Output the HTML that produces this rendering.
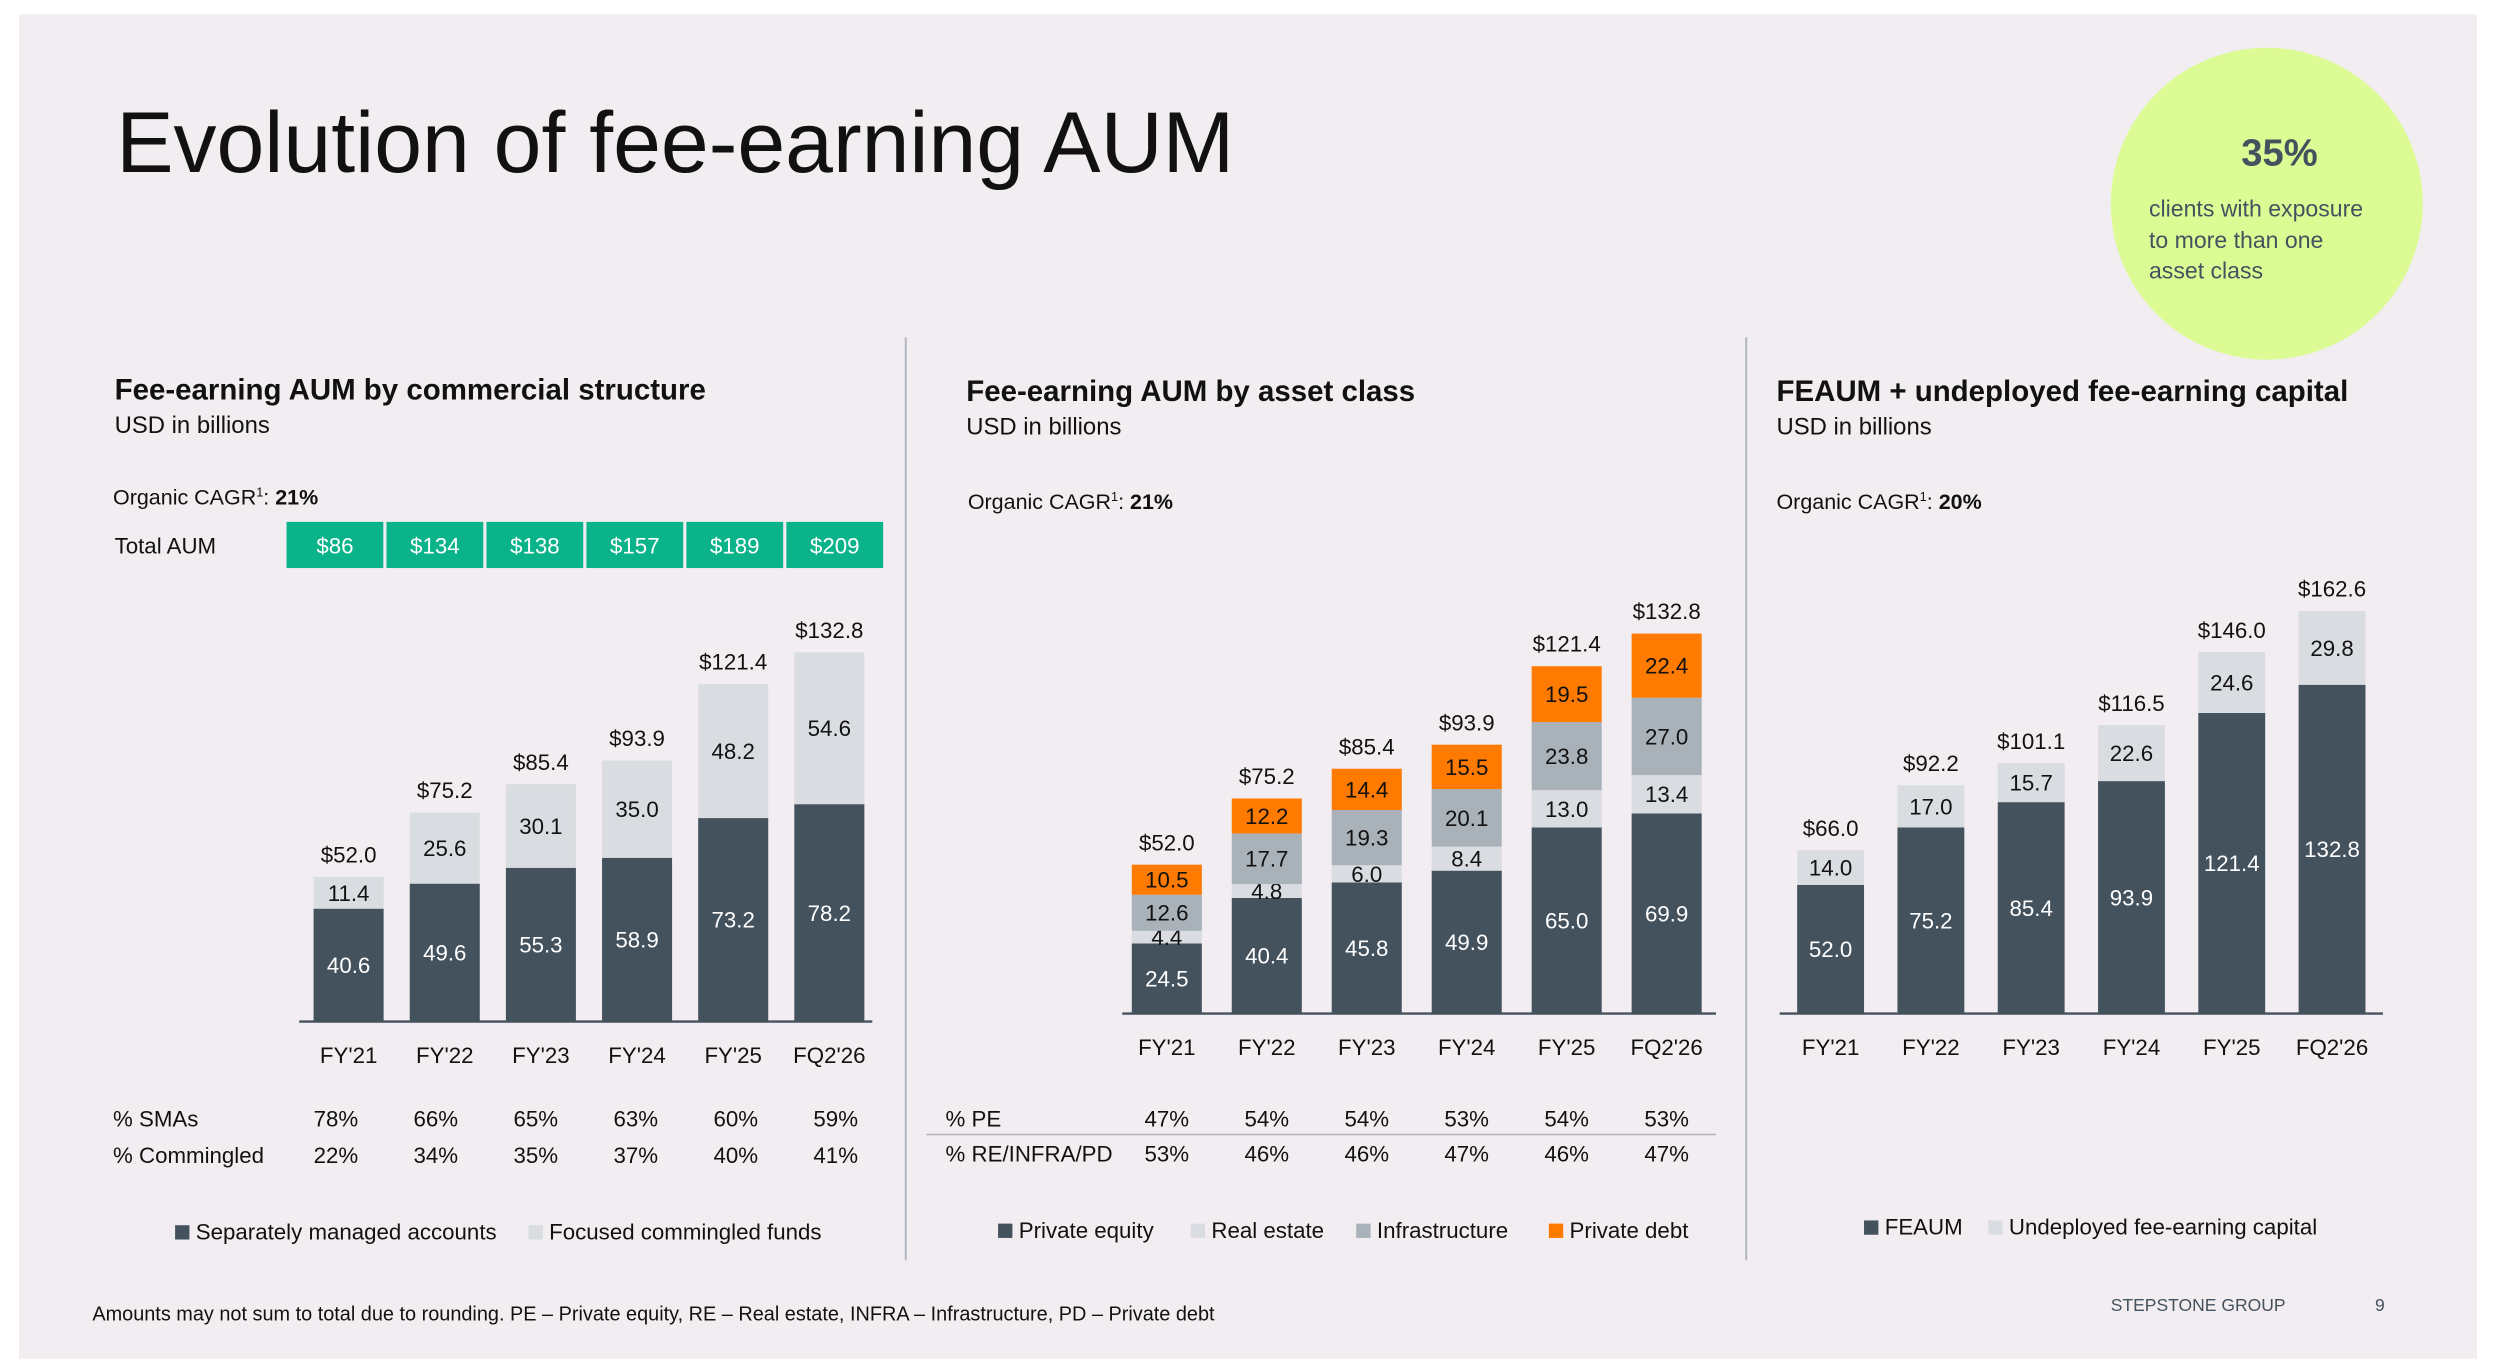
<!DOCTYPE html>
<html><head><meta charset="utf-8"><style>
html,body{margin:0;padding:0;background:#fff;overflow:hidden}
svg{display:block;font-family:"Liberation Sans",Arial,sans-serif}
</style></head><body>
<svg id="s" width="2496" height="1370" viewBox="0 0 1568 861" preserveAspectRatio="none" xmlns="http://www.w3.org/2000/svg">
<rect x="0" y="0" width="1568" height="861" fill="#fff"/>
<rect x="12" y="9" width="1544" height="845" fill="#f2edf1"/>
<text x="73" y="108" font-size="54" fill="#111">Evolution of fee-earning AUM</text>
<g>
<circle cx="1424" cy="128" r="98" fill="#dcfb94"/>
<text x="1432" y="104" font-size="24" font-weight="bold" fill="#44525e" text-anchor="middle">35%</text>
<text x="1350" y="136" font-size="14.5" fill="#44525e">clients with exposure</text>
<text x="1350" y="156" font-size="14.5" fill="#44525e">to more than one</text>
<text x="1350" y="175" font-size="14.5" fill="#44525e">asset class</text>
</g>
<line x1="569" y1="212" x2="569" y2="792" stroke="#b0b4bc" stroke-width="1.2"/>
<line x1="1097" y1="212" x2="1097" y2="792" stroke="#b0b4bc" stroke-width="1.2"/>

<g>
<text x="72" y="251" font-size="18.5" font-weight="bold" fill="#111">Fee-earning AUM by commercial structure</text>
<text x="72" y="272" font-size="15" fill="#111">USD in billions</text>
<text x="71" y="317" font-size="13.5" fill="#111">Organic CAGR<tspan font-size="8" dy="-5">1</tspan><tspan dy="5">: </tspan><tspan font-weight="bold">21%</tspan></text>
<text x="72" y="348" font-size="14" fill="#111">Total AUM</text>
</g>
<g>
<text x="607" y="252" font-size="18.5" font-weight="bold" fill="#111">Fee-earning AUM by asset class</text>
<text x="607" y="273" font-size="15" fill="#111">USD in billions</text>
<text x="608" y="320" font-size="13.5" fill="#111">Organic CAGR<tspan font-size="8" dy="-5">1</tspan><tspan dy="5">: </tspan><tspan font-weight="bold">21%</tspan></text>
</g>
<g>
<text x="1116" y="252" font-size="18.5" font-weight="bold" fill="#111">FEAUM + undeployed fee-earning capital</text>
<text x="1116" y="273" font-size="15" fill="#111">USD in billions</text>
<text x="1116" y="320" font-size="13.5" fill="#111">Organic CAGR<tspan font-size="8" dy="-5">1</tspan><tspan dy="5">: </tspan><tspan font-weight="bold">20%</tspan></text>
</g>
<g id="c1"></g><g id="c2"></g><g id="c3"></g>
<text x="58" y="830" font-size="12.5" fill="#111">Amounts may not sum to total due to rounding. PE – Private equity, RE – Real estate, INFRA – Infrastructure, PD – Private debt</text>
<text x="1326" y="824" font-size="11" fill="#44525e">STEPSTONE GROUP</text>
<text x="1492" y="824" font-size="11" fill="#44525e">9</text>
</svg>
<script>
const cats1 = ["FY'21","FY'22","FY'23","FY'24","FY'25","FQ2'26"];
const sma = [40.6,49.6,55.3,58.9,73.2,78.2];
const commingled = [11.4,25.6,30.1,35.0,48.2,54.6];
const totals1 = [52.0,75.2,85.4,93.9,121.4,132.8];
const totalAum = ["$86","$134","$138","$157","$189","$209"];
const smaPct = ["78%","66%","65%","63%","60%","59%"];
const commPct = ["22%","34%","35%","37%","40%","41%"];

const pe = [24.5,40.4,45.8,49.9,65.0,69.9];
const re = [4.4,4.8,6.0,8.4,13.0,13.4];
const infra = [12.6,17.7,19.3,20.1,23.8,27.0];
const pd = [10.5,12.2,14.4,15.5,19.5,22.4];
const totals2 = [52.0,75.2,85.4,93.9,121.4,132.8];
const pePct = ["47%","54%","54%","53%","54%","53%"];
const otherPct = ["53%","46%","46%","47%","46%","47%"];

const feaum = [52.0,75.2,85.4,93.9,121.4,132.8];
const undeployed = [14.0,17.0,15.7,22.6,24.6,29.8];
const totals3 = [66.0,92.2,101.1,116.5,146.0,162.6];

const NS="http://www.w3.org/2000/svg";
function mk(parent,tag,at,txt){const e=document.createElementNS(NS,tag);for(const k in at)e.setAttribute(k,at[k]);if(txt!==undefined)e.textContent=txt;parent.appendChild(e);return e;}
const DARK="#44525e",LIGHT="#d9dce0",MID="#a9b1b9",ORANGE="#ff7a00";

function chart(g,cfg){
  const x=i=>cfg.x0+i*cfg.step;
  const y=v=>cfg.base-v*cfg.k;
  cfg.cats.forEach((c,i)=>{
    let acc=0;
    cfg.series.forEach((s,si)=>{
      const v=s.data[i];
      const r=mk(g,'rect',{x:x(i)-cfg.w/2,y:y(acc+v),width:cfg.w,height:v*cfg.k,fill:s.color});
      
      
      const t=mk(g,'text',{x:x(i),y:y(acc+v/2)+5,'font-size':14,'text-anchor':'middle',fill:s.text},v.toFixed(1));
      
      
      acc+=v;
    });
    const tt=mk(g,'text',{x:x(i),y:y(cfg.totals[i])-9,'font-size':14,'text-anchor':'middle',fill:'#111'},'$'+cfg.totals[i].toFixed(1));
    
    
    const cl=mk(g,'text',{x:x(i),y:cfg.catY,'font-size':14,'text-anchor':'middle',fill:'#111'},c);
    
    
  });
  const ax=mk(g,'line',{x1:cfg.ax1,x2:cfg.ax2,y1:cfg.base,y2:cfg.base,stroke:DARK,'stroke-width':1.5});
  
  
  return x;
}
function legend(g,items,yy){
  items.forEach(it=>{
    const r=mk(g,'rect',{x:it.x,y:yy-9,width:9,height:9,fill:it.color});
    
    
    const t=mk(g,'text',{x:it.x+13,y:yy,'font-size':14,fill:'#111'},it.label);
    
    
  });
}

// chart 1
const g1=document.getElementById('c1');


const x1=chart(g1,{cats:cats1,x0:219,step:60.4,w:44,base:642,k:232/132.8,catY:668,ax1:188,ax2:548,totals:totals1,
 series:[{name:'sma',data:sma,color:DARK,text:'#fff'},{name:'commingled',data:commingled,color:LIGHT,text:'#111'}]});
totalAum.forEach((v,i)=>{
  const r=mk(g1,'rect',{x:180+i*62.8,y:328,width:60.8,height:29,fill:'#0bb38a'});
  
  
  const t=mk(g1,'text',{x:180+i*62.8+30.4,y:348,'font-size':14,'text-anchor':'middle',fill:'#fff'},v);
  
  
});
mk(g1,'text',{x:71,y:708,'font-size':14,fill:'#111'},'% SMAs');
mk(g1,'text',{x:71,y:731,'font-size':14,fill:'#111'},'% Commingled');
cats1.forEach((c,i)=>{
  mk(g1,'text',{x:211+i*62.8,y:708,'font-size':14,'text-anchor':'middle',fill:'#111'},smaPct[i]);
  mk(g1,'text',{x:211+i*62.8,y:731,'font-size':14,'text-anchor':'middle',fill:'#111'},commPct[i]);
});
legend(g1,[{x:110,color:DARK,label:'Separately managed accounts',id:'sma'},{x:332,color:LIGHT,label:'Focused commingled funds',id:'commingled'}],779);

// chart 2
const g2=document.getElementById('c2');


const x2=chart(g2,{cats:cats1,x0:733,step:62.8,w:44,base:637,k:239/132.8,catY:663,ax1:705,ax2:1078,totals:totals2,
 series:[{name:'private-equity',data:pe,color:DARK,text:'#fff'},{name:'real-estate',data:re,color:LIGHT,text:'#111'},
 {name:'infrastructure',data:infra,color:MID,text:'#111'},{name:'private-debt',data:pd,color:ORANGE,text:'#111'}]});
mk(g2,'text',{x:594,y:708,'font-size':14,fill:'#111'},'% PE');
mk(g2,'line',{x1:582,x2:1078,y1:713,y2:713,stroke:'#b0b4bc','stroke-width':1});
mk(g2,'text',{x:594,y:730,'font-size':14,fill:'#111'},'% RE/INFRA/PD');
cats1.forEach((c,i)=>{
  mk(g2,'text',{x:x2(i),y:708,'font-size':14,'text-anchor':'middle',fill:'#111'},pePct[i]);
  mk(g2,'text',{x:x2(i),y:730,'font-size':14,'text-anchor':'middle',fill:'#111'},otherPct[i]);
});
legend(g2,[{x:627,color:DARK,label:'Private equity',id:'pe'},{x:748,color:LIGHT,label:'Real estate',id:'re'},
 {x:852,color:MID,label:'Infrastructure',id:'infra'},{x:973,color:ORANGE,label:'Private debt',id:'pd'}],778);

// chart 3
const g3=document.getElementById('c3');


chart(g3,{cats:cats1,x0:1150,step:63,w:42,base:637,k:253/162.6,catY:663,ax1:1118,ax2:1497,totals:totals3,
 series:[{name:'feaum',data:feaum,color:DARK,text:'#fff'},{name:'undeployed',data:undeployed,color:LIGHT,text:'#111'}]});
legend(g3,[{x:1171,color:DARK,label:'FEAUM',id:'feaum'},{x:1249,color:LIGHT,label:'Undeployed fee-earning capital',id:'undeployed'}],776);
</script>
</body></html>
